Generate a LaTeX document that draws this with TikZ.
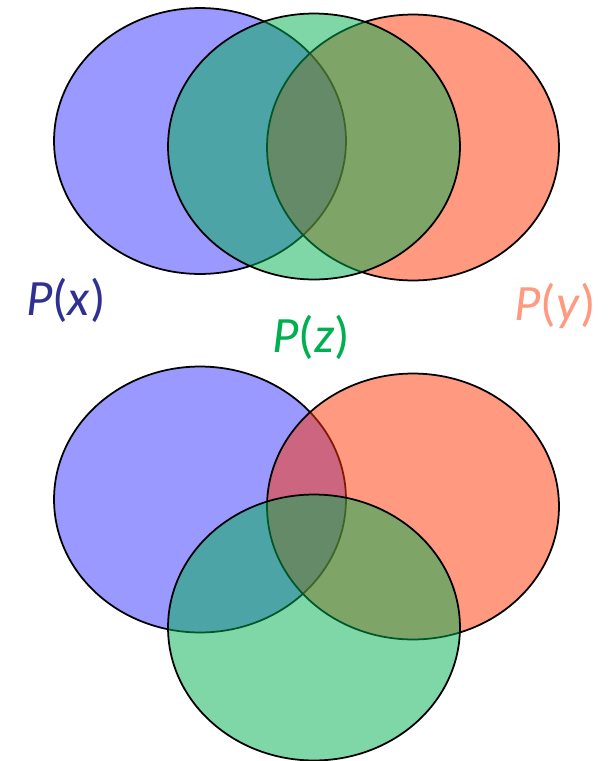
\documentclass[tikz,border=0pt]{standalone}
\usepackage{fontspec}
\setmainfont{Carlito}
\usetikzlibrary{shapes.geometric}

\definecolor{setblue}{RGB}{153,153,255}
\definecolor{setred}{RGB}{255,51,0}
\definecolor{setgreen}{RGB}{0,176,80}
\definecolor{labblue}{RGB}{46,49,146}
\definecolor{labred}{RGB}{255,153,128}

\newcommand{\probof}[1]{\textit{P}(\textit{#1})}

\begin{document}
\begin{tikzpicture}[x=0.02cm, y=-0.02cm]

\tikzset{
  set/.style={
    ellipse, draw=black, line width=1pt,
    minimum width=5.84cm, minimum height=5.32cm,
    inner sep=0pt
  },
  bset/.style={set, fill=setblue},
  rset/.style={set, fill=setred, fill opacity=0.5},
  gset/.style={set, fill=setgreen, fill opacity=0.5},
  lab/.style={font=\fontsize{29}{30}\selectfont}
}

\useasboundingbox (0,0) rectangle (611,761);

% ==========================
% Top: three overlapping sets
% ==========================
\node[bset] (x1) at (200,141) {};
\node[rset] (y1) at (413,147.5) {};
\node[gset] (z1) at (314,146.5) {};

% ==========================
% Labels
% ==========================
\node[lab, text=labblue] (lx) at (66,300) {\probof{x}};
\node[lab, text=labred] (ly) at (555,306) {\probof{y}};
\node[lab, text=setgreen] (lz) at (311,337) {\probof{z}};

% ==========================
% Bottom: three overlapping sets
% ==========================
\node[bset] (x2) at (200,499.5) {};
\node[rset] (y2) at (413,506.5) {};
\node[gset] (z2) at (314,627.5) {};

\end{tikzpicture}
\end{document}
